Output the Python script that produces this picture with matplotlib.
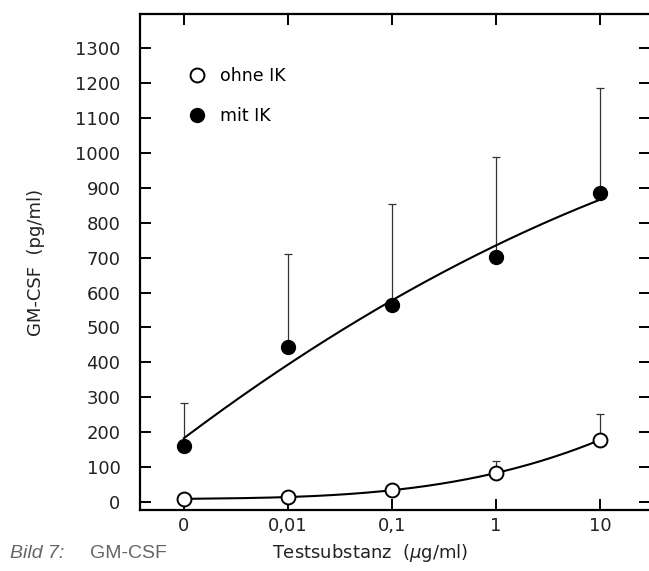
import matplotlib
matplotlib.use("Agg")
import matplotlib.pyplot as plt
import numpy as np

# Dose categories (Testsubstanz, ug/ml) and GM-CSF readings (pg/ml)
doses = ["0", "0,01", "0,1", "1", "10"]
ohne_ik = [9, 14, 34, 83, 178]
ohne_ik_err = [0, 0, 0, 35, 75]
mit_ik = [160, 444, 565, 702, 885]
mit_ik_err = [125, 265, 290, 285, 300]
y_ticks = list(range(0, 1400, 100))

x = np.arange(len(doses))

fig = plt.figure(figsize=(6.49, 5.71), dpi=100)
ax = fig.add_axes([0.2157, 0.1068, 0.786, 0.8687])

# smooth trend curves through the measurements
xs = np.linspace(x[0], x[-1], 200)
fit_mit = np.polyfit(x, mit_ik, 2)
fit_ohne = np.polyfit(x, ohne_ik, 3)
ax.plot(xs, np.polyval(fit_mit, xs), color="black", lw=1.5, zorder=2)
ax.plot(xs, np.polyval(fit_ohne, xs), color="black", lw=1.5, zorder=2)

# upper-only error bars
ax.errorbar(x, mit_ik, yerr=[np.zeros(len(x)), mit_ik_err], fmt="none",
            ecolor="#333333", elinewidth=0.9, capsize=3, capthick=0.9, zorder=1)
ax.errorbar(x, ohne_ik, yerr=[np.zeros(len(x)), ohne_ik_err], fmt="none",
            ecolor="#333333", elinewidth=0.9, capsize=3, capthick=0.9, zorder=1)

ax.plot(x, ohne_ik, "o", ms=10, mfc="white", mec="black", mew=1.4,
        label="ohne IK", zorder=3)
ax.plot(x, mit_ik, "o", ms=10, mfc="black", mec="black", label="mit IK", zorder=3)

ax.set_xlim(-0.423, 4.48)
ax.set_ylim(-23, 1398)
ax.set_xticks(x)
ax.set_xticklabels(doses)
ax.set_yticks(y_ticks)
ax.tick_params(axis="both", direction="in", length=8, width=1.4,
               labelsize=13, labelcolor="#222222", top=True, right=True)
ax.tick_params(axis="y", pad=14)
ax.tick_params(axis="x", pad=5)
for side in ["left", "bottom", "top"]:
    ax.spines[side].set_linewidth(1.6)
ax.spines["right"].set_visible(False)

ax.set_ylabel("GM-CSF  (pg/ml)", fontsize=13, color="#222222", labelpad=22)

fig.text(0.57, 0.022, "Testsubstanz  ($\\mu$g/ml)", fontsize=13,
         color="#222222", ha="center")

ax.legend(loc="upper left", bbox_to_anchor=(0.065, 0.925), frameon=False,
          fontsize=12.5, handletextpad=0.8, labelspacing=1.3, handlelength=1.0)

fig.text(0.015, 0.022, "Bild 7:", fontsize=14, style="italic", color="#666666",
         family="Liberation Sans")
fig.text(0.138, 0.022, "GM-CSF", fontsize=14, color="#666666",
         family="Liberation Sans")

fig.savefig("out.png", dpi=100)
